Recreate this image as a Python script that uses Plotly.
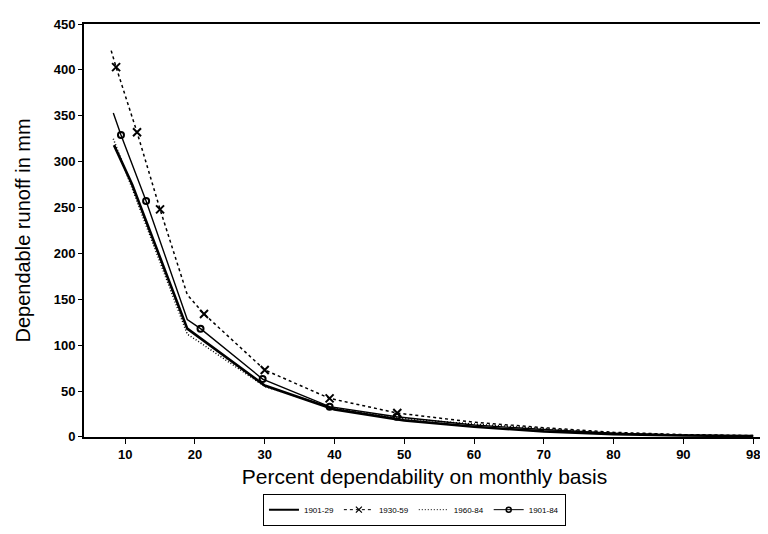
import plotly.graph_objects as go

# ---- data ----
tick_vals = [10, 20, 30, 40, 50, 60, 70, 80, 90, 100]
tick_text = ["10", "20", "30", "40", "50", "60", "70", "80", "90", "98"]
y_ticks = [0, 50, 100, 150, 200, 250, 300, 350, 400, 450]

# 1901-29 (thick solid)
x_1901_29 = [8.4, 11.0, 18.9, 30, 40, 50, 60, 70, 80, 90, 100]
y_1901_29 = [318, 275, 118, 56, 30, 18, 11, 6, 3, 1.5, 1]

# 1930-59 (dashed with x markers)
x_1930_59 = [8.0, 8.7, 11.7, 15.0, 18.9, 21.3, 30, 39.3, 49, 60, 70, 80, 90, 100]
y_1930_59 = [421, 403, 332, 248, 155, 134, 73, 42, 26, 16, 10, 5, 2.5, 1.5]
mx_1930_59 = [8.7, 11.7, 15.0, 21.3, 30, 39.3, 49]
my_1930_59 = [403, 332, 248, 134, 73, 42, 26]

# 1960-84 (dotted)
x_1960_84 = [8.3, 18.9, 20.5, 30, 40, 50, 60, 70, 80, 90, 100]
y_1960_84 = [325, 112, 104, 55, 31, 20, 14, 9, 4, 2, 1]

# 1901-84 (thin solid with circles)
x_1901_84 = [8.3, 9.4, 13.0, 18.9, 20.8, 29.7, 39.3, 48.9, 60, 70, 80, 90, 100]
y_1901_84 = [353, 329, 257, 128, 118, 63, 33, 22, 13, 8, 4, 2, 1]
mx_1901_84 = [9.4, 13.0, 20.8, 29.7, 39.3, 48.9]
my_1901_84 = [329, 257, 118, 63, 33, 22]

fig = go.Figure()

# line traces
fig.add_trace(go.Scatter(x=x_1901_29, y=y_1901_29, mode="lines",
                         line=dict(color="black", width=2.6), showlegend=False))
fig.add_trace(go.Scatter(x=x_1960_84, y=y_1960_84, mode="lines",
                         line=dict(color="black", width=1.5, dash="1px,2px"), showlegend=False))
fig.add_trace(go.Scatter(x=x_1901_84, y=y_1901_84, mode="lines",
                         line=dict(color="black", width=1.4), showlegend=False))
fig.add_trace(go.Scatter(x=x_1930_59, y=y_1930_59, mode="lines",
                         line=dict(color="black", width=1.5, dash="3px,3px"), showlegend=False))
# marker traces
fig.add_trace(go.Scatter(x=mx_1930_59, y=my_1930_59, mode="markers",
                         marker=dict(symbol="x-thin", size=8, color="black",
                                     line=dict(color="black", width=2)), showlegend=False))
fig.add_trace(go.Scatter(x=mx_1901_84, y=my_1901_84, mode="markers",
                         marker=dict(symbol="circle-open", size=6, color="black",
                                     line=dict(color="black", width=2)), showlegend=False))

# legend entries
fig.add_trace(go.Scatter(x=[None], y=[None], mode="lines", name="1901-29",
                         line=dict(color="black", width=2)))
fig.add_trace(go.Scatter(x=[None], y=[None], mode="lines+markers", name="1930-59",
                         line=dict(color="black", width=1, dash="3px,3px"),
                         marker=dict(symbol="x-thin", size=6, color="black",
                                     line=dict(color="black", width=1.2))))
fig.add_trace(go.Scatter(x=[None], y=[None], mode="lines", name="1960-84",
                         line=dict(color="black", width=1, dash="1px,2px")))
fig.add_trace(go.Scatter(x=[None], y=[None], mode="lines+markers", name="1901-84",
                         line=dict(color="black", width=1),
                         marker=dict(symbol="circle-open", size=5, color="black",
                                     line=dict(color="black", width=1.5))))

font_family = "Liberation Sans, Arial, sans-serif"

fig.update_layout(
    width=768, height=534,
    margin=dict(l=76, r=9, t=12, b=105),
    paper_bgcolor="white", plot_bgcolor="white",
    font=dict(family=font_family, color="black"),
    xaxis=dict(
        range=[4.1, 101.7], tickvals=tick_vals, ticktext=tick_text,
        showgrid=False, zeroline=False,
        showline=True, linecolor="black", linewidth=1.5, mirror=True,
        ticks="outside", ticklen=5, tickwidth=1.2, tickcolor="black",
        tickfont=dict(size=13, family=font_family, color="black", weight="bold"),
        title=dict(text="Percent dependability on monthly basis",
                   font=dict(size=21, family=font_family, color="black"), standoff=8),
    ),
    yaxis=dict(
        range=[0, 450], tickvals=y_ticks,
        showgrid=False, zeroline=False,
        showline=True, linecolor="black", linewidth=2, mirror=True,
        ticks="outside", ticklen=4, tickwidth=1, tickcolor="black",
        tickfont=dict(size=13, family=font_family, color="black", weight="bold"),
        title=dict(text="Dependable runoff in mm",
                   font=dict(size=20, family=font_family, color="black"), standoff=18),
    ),
    legend=dict(
        orientation="h", xref="container", yref="container",
        x=0.529, xanchor="center", y=0.06, yanchor="middle",
        bordercolor="black", borderwidth=1.2, bgcolor="white",
        font=dict(size=8, family=font_family, color="black"),
        itemwidth=30, tracegroupgap=0,
    ),
)

fig.write_html("out.html")
